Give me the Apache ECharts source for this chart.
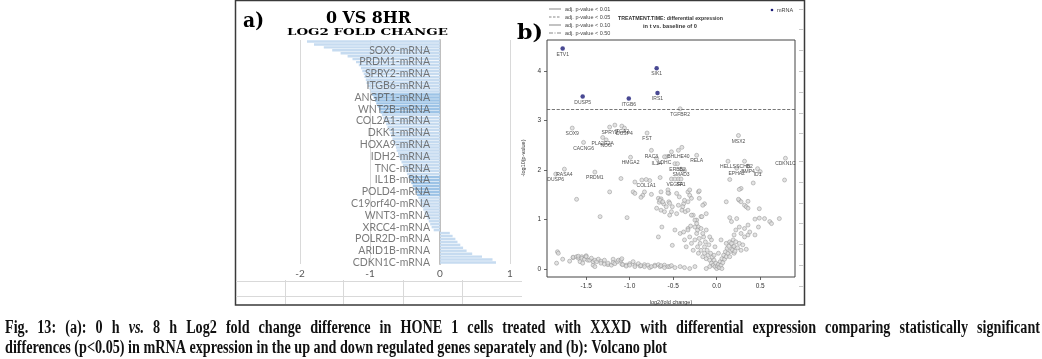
<!DOCTYPE html>
<html><head><meta charset="utf-8">
<script src="https://cdn.jsdelivr.net/npm/echarts@6/dist/echarts.min.js"></script>
<style>html,body{margin:0;padding:0;background:#fff;}#c{width:1042px;height:359px;}</style>
</head><body><div id="c"></div>
<script>
// ---------- Panel a: log2 fold change bars ----------
const barLabels = ['SOX9-mRNA','PRDM1-mRNA','SPRY2-mRNA','ITGB6-mRNA','ANGPT1-mRNA','WNT2B-mRNA','COL2A1-mRNA','DKK1-mRNA','HOXA9-mRNA','IDH2-mRNA','TNC-mRNA','IL1B-mRNA','POLD4-mRNA','C19orf40-mRNA','WNT3-mRNA','XRCC4-mRNA','POLR2D-mRNA','ARID1B-mRNA','CDKN1C-mRNA'];
const barValues = [
 -1.90,-1.80,-1.66,-1.54,-1.42,-1.32,-1.25,-1.20,
 -1.16,-1.13,-1.11,-1.09,-1.08,-1.06,-1.05,-1.03,
 -1.01,-0.99,-0.97,-0.95,-0.93,-0.91,-0.89,-0.87,
 -0.85,-0.83,-0.81,-0.79,-0.77,-0.75,-0.73,-0.71,
 -0.70,-0.68,-0.67,-0.65,-0.63,-0.62,-0.60,-0.59,
 -0.57,-0.55,-0.53,-0.51,-0.49,-0.47,-0.45,-0.43,
 -0.41,-0.39,-0.37,-0.35,-0.33,-0.31,-0.29,-0.28,
 -0.26,-0.24,-0.22,-0.20,-0.18,-0.16,-0.14,-0.12,
 -0.09, 0.14, 0.18, 0.22, 0.25, 0.29, 0.33, 0.38,
  0.46, 0.60, 0.75, 0.80];
const highlightedBars = [18,19,20,21,22,23,24,46,47,48,49,50,51,52];
const barTicks = [-2,-1,0,1];

// ---------- Panel b: volcano plot ----------
const sigGenes = [[-1.77,4.46,'ETV1'],[-0.69,4.06,'SIK1'],[-1.54,3.49,'DUSP5'],[-1.01,3.45,'ITGB6'],[-0.68,3.56,'IRS1']];
const labeledGenes = [
 [-0.42,3.24,'TGFBR2'],[-1.66,2.85,'SOX9'],[-1.23,2.87,'SPRY2'],[-1.09,2.89,'ITGA2'],[-1.06,2.85,'DUSP4'],
 [-1.31,2.66,'PLA2G2A'],[-1.27,2.61,'NOG'],[-1.53,2.56,'CACNG6'],[-0.80,2.75,'FST'],[0.25,2.70,'MSX2'],
 [-0.75,2.40,'RAC3'],[-0.44,2.40,'BHLHE40'],[-0.23,2.30,'RELA'],[-0.99,2.26,'HMGA2'],[-0.69,2.24,'IL1A'],
 [-0.60,2.27,'LDHC'],[-0.45,2.13,'ERBB2'],[-0.41,2.02,'SMAD3'],[-0.48,1.82,'VEGFA'],[-0.41,1.82,'SF1'],
 [-0.81,1.81,'COL1A1'],[0.13,2.18,'HELLS'],[0.32,2.18,'SCHB2'],[0.23,2.04,'EPHA2'],[0.36,2.08,'BMP4'],
 [0.47,2.03,'ID1'],[0.79,2.24,'CDKN1C'],[-1.40,1.96,'PRDM1'],[-1.75,2.02,'RASA4'],[-1.85,1.92,'DUSP6']];
const otherGenes = [
 [-1.17,2.91],[-0.40,2.46],[-0.52,2.37],[-0.58,2.27],[-0.48,2.13],[-0.37,1.99],[-0.52,1.82],[-0.44,1.82],
 [-0.86,1.80],[-0.77,1.79],[-0.94,1.76],[-1.10,1.83],[-0.65,1.85],[0.15,1.81],[0.42,1.74],[0.78,1.80],[0.50,1.97],
 [-1.23,1.56],[-1.61,1.41],[-0.96,1.56],[-0.94,1.53],[-0.85,1.49],[-0.75,1.51],[-0.67,1.43],[-0.56,1.60],[-0.55,1.53],
 [-0.87,1.45],[-0.83,1.56],[-0.66,1.35],[-0.64,1.42],[-0.69,1.23],[-0.64,1.19],[-0.58,1.26],[-0.52,1.16],
 [-0.65,1.39],[-0.61,1.32],[-0.55,1.36],[-0.51,1.26],[-0.44,1.29],[-0.38,1.32],[-0.33,1.36],
 [-0.33,1.56],[-0.31,1.49],[-0.21,1.56],[-0.20,1.43],[-0.14,1.32],[-0.31,1.60],[-0.20,1.58],[-0.29,1.43],[-0.16,1.29],
 [-0.64,1.56],[-0.56,1.54],[-0.62,1.36],[-0.54,1.33],[-0.46,1.53],[-0.43,1.46],[-0.37,1.39],[-0.39,1.26],
 [-0.60,1.16],[-0.54,1.09],[-0.46,1.12],[-0.40,1.19],[-0.36,1.16],[-0.33,1.19],[-0.27,1.09],[-0.18,1.06],[-0.12,1.12],
 [-0.29,1.09],[-0.23,0.99],[-0.17,1.06],[-1.34,1.06],[-1.03,1.04],[-0.63,0.85],[-0.67,0.65],[-0.51,0.48],
 [-0.48,0.79],[-0.42,0.72],[-0.38,0.75],[-0.33,0.82],[-0.25,0.99],[-0.23,0.92],[-0.21,0.85],
 [0.17,0.96],[0.26,0.85],[0.32,0.82],[0.28,0.72],[0.22,0.79],[0.20,0.69],[0.32,0.65],[0.36,0.69],
 [0.44,1.01],[0.49,1.03],[0.61,0.96],[0.63,0.92],[0.48,0.85],[0.36,0.89],[0.38,0.75],[0.44,0.69],
 [0.32,1.29],[0.34,1.26],[0.26,1.39],[0.28,1.63],[0.11,1.36],[0.49,1.22],[0.34,0.40],[0.05,0.59],[0.11,0.52],
 [0.15,0.55],[0.19,0.45],[0.20,0.32],[0.26,1.61],[0.25,1.41],[0.28,1.36],[0.36,1.37],[0.36,1.23],[0.15,1.04],[0.23,1.02],[0.55,1.02],[0.72,1.02],
 [-0.37,0.59],[-0.35,0.45],[-0.31,0.65],[-0.29,0.52],[-0.27,0.38],[-0.25,0.59],[-0.23,0.72],[-0.22,0.45],[-0.21,0.32],
 [-0.20,0.62],[-0.19,0.52],[-0.18,0.38],[-0.16,0.25],[-0.15,0.65],[-0.14,0.45],[-0.14,0.32],[-0.13,0.55],[-0.12,0.21],
 [-0.11,0.38],[-0.10,0.28],[-0.09,0.49],[-0.08,0.18],[-0.07,0.32],[-0.06,0.12],[-0.05,0.24],[-0.04,0.08],[-0.03,0.18],
 [-0.02,0.05],[-0.01,0.12],[0.00,0.01],[0.01,0.06],[0.02,0.10],[0.03,0.03],[0.04,0.15],[0.05,0.08],[0.06,0.21],
 [0.07,0.13],[0.08,0.28],[0.09,0.20],[0.10,0.35],[0.11,0.25],[0.12,0.42],[0.13,0.32],[0.14,0.46],[0.16,0.36],
 [0.17,0.52],[0.18,0.39],[0.19,0.59],[0.20,0.46],[0.22,0.55],[0.24,0.43],[0.26,0.52],[0.28,0.38],[0.30,0.49],
 [0.21,0.36],[0.15,0.25],[-0.06,0.59],[-0.02,0.45],[-0.03,0.28],[0.02,0.32],[-0.08,0.05],[-0.12,0.01],[0.06,0.01],
 [-0.25,0.85],[-0.22,0.79],[-0.18,0.82],[-0.16,0.72],[-0.12,0.79],[-0.08,0.65],[-0.33,0.79],[-0.30,0.87],
 [-1.84,0.12],[-1.83,0.35],[-1.82,0.32],[-1.77,0.20],[-1.69,0.16],[-1.65,0.23],[-1.65,0.24],[-1.61,0.25],[-1.59,0.22],
 [-1.59,0.26],[-1.57,0.15],[-1.55,0.25],[-1.55,0.22],[-1.54,0.12],[-1.52,0.20],[-1.50,0.27],[-1.50,0.25],[-1.48,0.18],
 [-1.46,0.18],[-1.44,0.22],[-1.42,0.08],[-1.42,0.15],[-1.40,0.18],[-1.40,0.05],[-1.38,0.15],[-1.36,0.20],[-1.33,0.16],
 [-1.33,0.12],[-1.29,0.18],[-1.29,0.10],[-1.25,0.09],[-1.25,0.12],[-1.21,0.08],[-1.19,0.20],[-1.19,0.13],[-1.17,0.11],
 [-1.14,0.15],[-1.13,0.18],[-1.10,0.18],[-1.09,0.21],[-1.09,0.10],[-1.08,0.09],[-1.04,0.08],[-1.04,0.06],[-1.00,0.11],
 [-1.00,0.08],[-0.96,0.15],[-0.94,0.08],[-0.94,0.05],[-0.90,0.11],[-0.88,0.06],[-0.87,0.07],[-0.83,0.09],[-0.83,0.05],
 [-0.79,0.08],[-0.77,0.03],[-0.75,0.05],[-0.71,0.08],[-0.71,0.06],[-0.67,0.09],[-0.65,0.05],[-0.64,0.07],[-0.60,0.08],
 [-0.60,0.03],[-0.56,0.05],[-0.54,0.05],[-0.52,0.07],[-0.48,0.03],[-0.42,0.05],[-0.37,0.03],[-0.31,0.01],[-0.25,0.05]];
const pCutoff = 3.23;
const volcanoXTicks = [-1.5,-1.0,-0.5,0.0,0.5];
const volcanoYTicks = [0,1,2,3,4];
const legendItems = ['adj. p-value < 0.01','adj. p-value < 0.05','adj. p-value < 0.10','adj. p-value < 0.50'];
const captionLines = [
 'Fig. 13: (a): 0 h vs. 8 h Log2 fold change difference in HONE 1 cells treated with XXXD with differential expression comparing statistically significant',
 'differences (p<0.05) in mRNA expression in the up and down regulated genes separately and (b): Volcano plot'];

// ---------- helpers ----------
const mctx = document.createElement('canvas').getContext('2d');
function measure(text, font){ mctx.font = font; return mctx.measureText(text).width; }
function fit(text, font, w){ return w / measure(text, font); }
function txt(text, x, y, font, w, extra){
  const o = {type:'text', x:x, y:y, silent:true,
    style:Object.assign({text:text, font:font, fill:'#000', textVerticalAlign:'middle'}, extra||{})};
  if (w) o.scaleX = fit(text, font, w);
  return o;
}
function line(x1,y1,x2,y2,stroke,lw,dash){
  return {type:'line', silent:true, shape:{x1:x1,y1:y1,x2:x2,y2:y2},
    style:{stroke:stroke, lineWidth:lw||1, lineDash:dash||null}};
}

const categories = barValues.map((v,i)=> (i%4===3) ? barLabels[(i-3)/4] : '');
const labelAnchors = barLabels.map((n,k)=>({value:[0, 3+4*k], name:n}));

const g = [];
g.push({type:'rect', silent:true, shape:{x:235.5,y:0.5,width:569,height:304.5}, style:{fill:'none', stroke:'#3a3a3a', lineWidth:1.5}});
[281.5,296.5].forEach(y=>g.push(line(236,y,522,y,'#d9d9d9',1)));
[285.5,343.5,403.5,462.5].forEach(x=>g.push(line(x,280,x,304,'#d9d9d9',1)));
[9,29,50,71,92,113,133,161,182,203,223,244,265,286].forEach(y=>g.push(line(799,y+0.5,804,y+0.5,'#c8c8c8',1)));
g.push(txt('a)',243,22,'bold 20px "DejaVu Serif"',21));
g.push(txt('0 VS 8HR',326,19,'bold 16px "DejaVu Serif"',85));
g.push(txt('LOG2 FOLD CHANGE',287,32.5,'bold 10px "DejaVu Serif"',161));
g.push(txt('b)',517,34,'bold 20px "DejaVu Serif"',26));
const dashes = [null,[2.5,1.5],null,[4,1.5,1,1.5]];
legendItems.forEach((t,i)=>{
  const y = 9 + i*8;
  g.push(line(549,y,561,y,'#555',0.7,dashes[i]));
  g.push(txt(t,565,y,'5.5px "Liberation Sans"',0,{fill:'#444'}));
});
g.push(txt('TREATMENT.TIME: differential expression',618,18.5,'bold 5.5px "Liberation Sans"',105,{fill:'#333'}));
g.push(txt('in t vs. baseline of 0',643,26.5,'bold 5.5px "Liberation Sans"',54,{fill:'#333'}));
g.push({type:'circle', silent:true, shape:{cx:772,cy:10,r:1.3}, style:{fill:'#1b1b78'}});
g.push(txt('mRNA',777,10,'5.5px "Liberation Sans"',0,{fill:'#444'}));
g.push(Object.assign(txt('-log10(p-value)',523,158,'5.5px "Liberation Sans"',0,{fill:'#333', textAlign:'center'}),{rotation:Math.PI/2}));
g.push(txt('log2(fold change)',671,302,'5.5px "Liberation Sans"',0,{fill:'#333', textAlign:'center'}));

// caption: line 2 sets the condensed scale, line 1 is justified to full width
const capFont = 'bold 18px "Liberation Serif"';
const capItal = 'italic bold 18px "Liberation Serif"';
const capScale = fit(captionLines[1], capFont, 662);
g.push({type:'text', x:5, y:348.5, scaleX:capScale, silent:true,
  style:{text:captionLines[1], font:capFont, fill:'#111', textVerticalAlign:'middle'}});
(function(){
  const words = captionLines[0].split(' ');
  const fonts = words.map(w=> w==='vs.' ? capItal : capFont);
  const widths = words.map((w,i)=> measure(w, fonts[i]) * capScale);
  const total = widths.reduce((a,b)=>a+b,0);
  const gap = (1035 - total) / (words.length - 1);
  let x = 5;
  words.forEach((w,i)=>{
    g.push({type:'text', x:x, y:328, scaleX:capScale, silent:true,
      style:{text:w, font:fonts[i], fill:'#111', textVerticalAlign:'middle'}});
    x += widths[i] + gap;
  });
})();

const gray = {color:'#dcdcdc', borderColor:'#8a8a8a', borderWidth:0.6};
const ptLabel = {show:true, position:'bottom', distance:1, formatter:'{b}', fontSize:5, color:'#222', fontFamily:'Liberation Sans'};

const chart = echarts.init(document.getElementById('c'));
chart.setOption({
  animation:false,
  backgroundColor:'#fff',
  grid:[
    {left:300, width:210, top:40, height:224},
    {left:547, width:248, top:40, height:237, show:true, borderColor:'#444', borderWidth:1, backgroundColor:'transparent'}
  ],
  xAxis:[
    {type:'value', gridIndex:0, min:barTicks[0], max:barTicks[barTicks.length-1], interval:1,
     axisLine:{show:false}, axisTick:{show:false},
     axisLabel:{color:'#595959', fontSize:10, margin:5, fontFamily:'Lato'},
     splitLine:{show:true, lineStyle:{color:'#d9d9d9', width:1}}},
    {type:'value', gridIndex:1, min:-1.95, max:0.9,
     axisLine:{show:false, onZero:false}, splitLine:{show:false},
     axisTick:{show:true, length:3, customValues:volcanoXTicks, lineStyle:{color:'#444', width:0.8}},
     axisLabel:{customValues:volcanoXTicks, formatter:v=>v.toFixed(1), fontSize:6.5, color:'#333', margin:6, fontFamily:'Liberation Sans'}}
  ],
  yAxis:[
    {type:'category', gridIndex:0, inverse:true, data:categories,
     axisLine:{show:true, onZero:true, lineStyle:{color:'#bfbfbf', width:2}},
     axisTick:{show:false}, axisLabel:{show:false}, splitLine:{show:false}},
    {type:'value', gridIndex:1, min:-0.16, max:4.63,
     axisLine:{show:false, onZero:false}, splitLine:{show:false},
     axisTick:{show:true, length:3, customValues:volcanoYTicks, lineStyle:{color:'#444', width:0.8}},
     axisLabel:{customValues:volcanoYTicks, fontSize:6.5, color:'#333', margin:6, fontFamily:'Liberation Sans'}}
  ],
  series:[
    {type:'bar', xAxisIndex:0, yAxisIndex:0, barCategoryGap:'18%',
     data:barValues.map((v,i)=>({value:v, itemStyle:{color: highlightedBars.includes(i) ? '#9dc3e6' : '#c6dbf0'}}))},
    {type:'scatter', xAxisIndex:0, yAxisIndex:0, symbolSize:0, z:5, silent:true,
     label:{show:true, position:'left', distance:10, formatter:'{b}', color:'#595959', fontSize:10.5, fontFamily:'Lato'},
     data:labelAnchors},
    {type:'scatter', xAxisIndex:1, yAxisIndex:1, symbolSize:4, itemStyle:gray, data:otherGenes,
     markLine:{silent:true, symbol:'none', label:{show:false}, lineStyle:{type:'dashed', color:'#555', width:0.8},
               data:[{yAxis:pCutoff}]}},
    {type:'scatter', xAxisIndex:1, yAxisIndex:1, symbolSize:4, itemStyle:gray, label:ptLabel,
     data:labeledGenes.map(d=>({value:[d[0],d[1]], name:d[2]}))},
    {type:'scatter', xAxisIndex:1, yAxisIndex:1, symbolSize:4.5, itemStyle:{color:'#1b1b78'}, label:ptLabel,
     data:sigGenes.map(d=>({value:[d[0],d[1]], name:d[2]}))}
  ],
  graphic:g
});
</script></body></html>
